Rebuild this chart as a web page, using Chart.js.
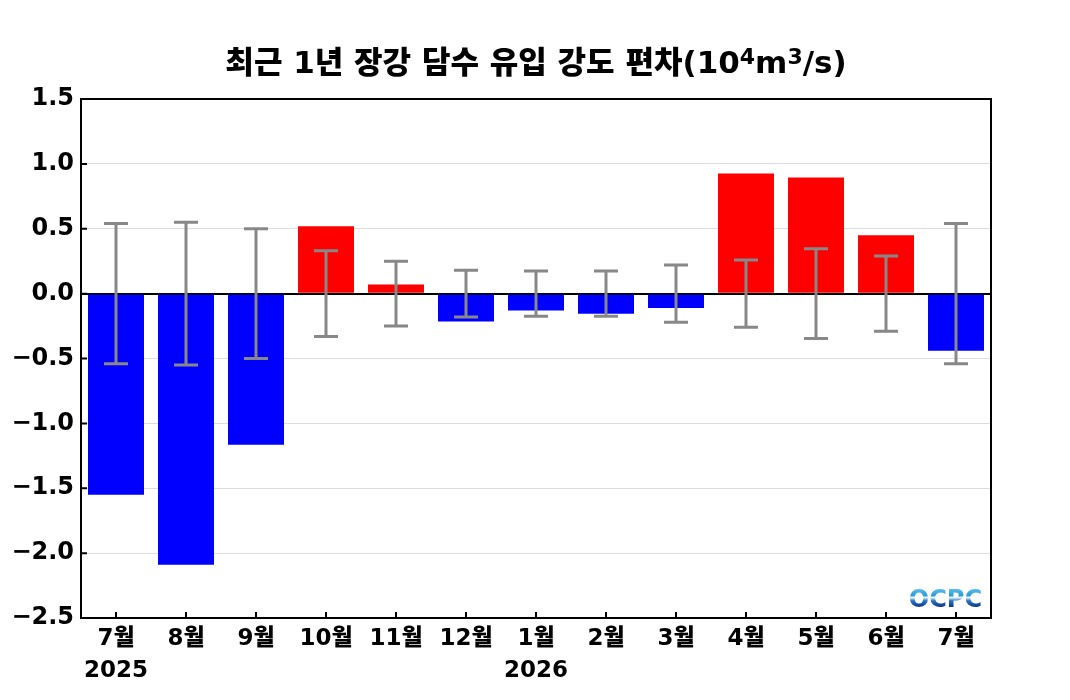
<!DOCTYPE html>
<html>
<head>
<meta charset="utf-8">
<script src="https://cdn.jsdelivr.net/npm/chart.js"></script>
<style>
  html, body { margin: 0; padding: 0; background: #fff; }
  #wrap { width: 1070px; height: 700px; }
</style>
</head>
<body>
<div id="wrap"><canvas id="anomalyChart"></canvas></div>
<script>
const months = [["7월", "2025"], "8월", "9월", "10월", "11월", "12월", ["1월", "2026"], "2월", "3월", "4월", "5월", "6월", "7월"];
const anomaly = [-1.55, -2.09, -1.165, 0.52, 0.07, -0.215, -0.13, -0.155, -0.11, 0.925, 0.895, 0.45, -0.44];
const spread = [0.54, 0.55, 0.50, 0.33, 0.25, 0.18, 0.175, 0.175, 0.22, 0.26, 0.345, 0.29, 0.54];
const yTicks = [1.5, 1.0, 0.5, 0.0, -0.5, -1.0, -1.5, -2.0, -2.5];

const FONT = "'DejaVu Sans', 'Noto Sans CJK KR', sans-serif";

// title with superscripts
const titlePlugin = {
  id: 'titleText',
  afterDraw(chart) {
    const ctx = chart.ctx;
    const parts = [
      ["최근 1년 장강 담수 유입 강도 편차(10", false],
      ["4", true], ["m", false], ["3", true], ["/s)", false]
    ];
    ctx.save();
    ctx.fillStyle = "#000";
    ctx.textBaseline = "alphabetic";
    ctx.textAlign = "left";
    let total = 0;
    parts.forEach(p => {
      ctx.font = "900 " + (p[1] ? 22 : 31) + "px " + FONT;
      total += ctx.measureText(p[0]).width;
    });
    let x = (chart.chartArea.left + chart.chartArea.right) / 2 - total / 2;
    parts.forEach(p => {
      ctx.font = "900 " + (p[1] ? 22 : 31) + "px " + FONT;
      ctx.fillText(p[0], x, p[1] ? 64 : 73);
      x += ctx.measureText(p[0]).width;
    });
    ctx.restore();
  }
};

// error bars, frame, inward ticks, logo
const extrasPlugin = {
  id: 'extras',
  afterDatasetsDraw(chart) {
    const ctx = chart.ctx;
    const xs = chart.scales.x, ys = chart.scales.y;
    ctx.save();
    ctx.strokeStyle = "#888888";
    ctx.lineWidth = 3;
    spread.forEach((e, i) => {
      const x = xs.getPixelForValue(i);
      const yT = ys.getPixelForValue(e);
      const yB = ys.getPixelForValue(-e);
      ctx.beginPath();
      ctx.moveTo(x, yT); ctx.lineTo(x, yB);
      ctx.moveTo(x - 12, yT); ctx.lineTo(x + 12, yT);
      ctx.moveTo(x - 12, yB); ctx.lineTo(x + 12, yB);
      ctx.stroke();
    });
    ctx.restore();
  },
  afterDraw(chart) {
    const ctx = chart.ctx;
    const a = chart.chartArea;
    const xs = chart.scales.x, ys = chart.scales.y;
    ctx.save();
    ctx.strokeStyle = "#000";
    ctx.lineWidth = 2;
    ctx.strokeRect(a.left, a.top, a.right - a.left, a.bottom - a.top);
    ctx.beginPath();
    months.forEach((m, i) => {
      const x = xs.getPixelForValue(i);
      ctx.moveTo(x, a.bottom); ctx.lineTo(x, a.bottom - 6);
    });
    yTicks.forEach(v => {
      const y = ys.getPixelForValue(v);
      ctx.moveTo(a.left, y); ctx.lineTo(a.left + 6, y);
    });
    ctx.stroke();

    // OCPC logo
    ctx.font = "bold 24px " + FONT;
    ctx.textAlign = "right";
    ctx.textBaseline = "alphabetic";
    const g = ctx.createLinearGradient(0, 586, 0, 607);
    g.addColorStop(0, "#6fd0f4");
    g.addColorStop(0.45, "#2a9ad8");
    g.addColorStop(0.55, "#e8f6ff");
    g.addColorStop(0.7, "#2a78c8");
    g.addColorStop(1, "#0a3488");
    ctx.fillStyle = g;
    ctx.fillText("OCPC", a.right - 9, 607);
    ctx.restore();
  }
};

new Chart("anomalyChart", {
  type: "bar",
  data: {
    labels: months,
    datasets: [{
      data: anomaly,
      backgroundColor: anomaly.map(v => v >= 0 ? "#ff0000" : "#0000ff"),
      barPercentage: 0.8,
      categoryPercentage: 1.0
    }]
  },
  options: {
    responsive: true,
    maintainAspectRatio: false,
    animation: false,
    layout: { padding: { top: 99, right: 79, left: 0, bottom: 0 } },
    plugins: {
      legend: { display: false },
      title: { display: false },
      tooltip: { enabled: false }
    },
    scales: {
      x: {
        grid: { display: false, drawTicks: false },
        border: { display: false },
        ticks: {
          color: "#000",
          font: { family: FONT, size: 23, weight: "900", lineHeight: 1.4 },
          padding: 5,
          maxRotation: 0,
          autoSkip: false
        },
        afterFit(s) { s.height = 82; }
      },
      y: {
        min: -2.5,
        max: 1.5,
        afterBuildTicks(s) { s.ticks = yTicks.map(v => ({ value: v })); },
        grid: {
          drawTicks: false,
          color: ctx => ctx.tick && ctx.tick.value === 0 ? "#000" : "#dddddd",
          lineWidth: ctx => ctx.tick && ctx.tick.value === 0 ? 2 : 1
        },
        border: { display: false },
        ticks: {
          color: "#000",
          font: { family: FONT, size: 24, weight: "900" },
          padding: 7,
          callback: v => v.toFixed(1).replace("-", "\u2212")
        },
        afterFit(s) { s.width = 81; }
      }
    }
  },
  plugins: [titlePlugin, extrasPlugin]
});
</script>
</body>
</html>
